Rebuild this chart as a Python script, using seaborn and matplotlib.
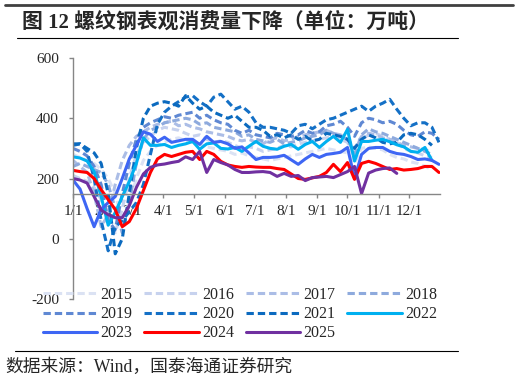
import matplotlib
matplotlib.use("Agg")
import matplotlib.pyplot as plt
import seaborn as sns
import numpy as np
import pandas as pd
from matplotlib.lines import Line2D

# weekly rebar apparent consumption, 10k tonnes
v2015 = [280, 270, 260, 250, 230, 200, 150, 60, 120, 200, 260, 290, 310, 320, 330, 335, 325, 320, 315, 305,
         300, 295, 290, 280, 285, 275, 270, 265, 260, 265, 270, 275, 280, 285, 290, 295, 300, 295, 290, 285,
         250, 300, 305, 300, 295, 280, 270, 265, 255, 250, 240, 230]
v2016 = [210, 200, 190, 170, 130, 60, 20, 100, 200, 280, 320, 340, 360, 370, 365, 360, 350, 340, 345, 330,
         320, 325, 320, 310, 300, 305, 300, 290, 295, 300, 310, 305, 315, 320, 325, 330, 335, 340, 330, 320,
         270, 330, 345, 350, 340, 330, 320, 300, 290, 285, 275, 270]
v2017 = [260, 240, 220, 150, 40, 80, 180, 260, 310, 340, 355, 370, 380, 385, 390, 375, 380, 370, 365, 355,
         350, 345, 340, 330, 325, 330, 320, 315, 330, 335, 325, 330, 340, 345, 350, 355, 360, 350, 345, 330,
         300, 340, 350, 345, 335, 330, 320, 310, 305, 300, 295, 290]
v2018 = [240, 250, 240, 230, 220, 180, 100, 20, 120, 250, 330, 360, 370, 385, 390, 395, 400, 395, 380, 385,
         370, 365, 360, 355, 340, 345, 330, 325, 320, 330, 315, 320, 325, 335, 340, 345, 360, 350, 340, 330,
         280, 345, 365, 355, 350, 340, 330, 320, 310, 300, 290, 280]
v2019 = [300, 290, 275, 240, 180, 60, 30, 150, 250, 330, 370, 385, 395, 405, 400, 410, 415, 420, 400, 410,
         395, 385, 380, 360, 350, 360, 345, 340, 335, 350, 345, 340, 345, 360, 350, 355, 375, 380, 390, 370,
         340, 385, 400, 395, 385, 390, 380, 360, 345, 340, 355, 350, 330]
v2020 = [310, 315, 290, 200, 60, -40, 40, 60, 90, 120, 180, 280, 380, 420, 440, 455, 470, 475, 455, 440,
         470, 480, 455, 430, 440, 420, 385, 370, 370, 365, 360, 350, 375, 380, 365, 380, 395, 400, 410, 420,
         430, 440, 423, 440, 450, 463, 430, 400, 375, 385, 385, 370, 320]
v2021 = [315, 315, 300, 285, 250, 150, -50, 0, 150, 300, 400, 440, 450, 455, 450, 440, 475, 450, 430, 440,
         420, 410, 400, 410, 390, 370, 370, 360, 340, 345, 335, 345, 330, 340, 325, 330, 350, 345, 340, 330,
         300, 330, 345, 335, 320, 315, 320, 345, 350, 345, 330, 310]
v2022 = [272, 268, 258, 223, 140, 45, 87, 140, 190, 250, 335, 310, 310, 313, 303, 310, 315, 323, 297, 315,
         318, 300, 298, 303, 290, 307, 323, 307, 300, 297, 307, 313, 297, 313, 323, 303, 323, 340, 320, 363,
         258, 323, 323, 327, 330, 322, 312, 305, 290, 287, 303, 260]
v2023 = [195, 165, 100, 40, 97, 120, 140, 200, 265, 310, 355, 347, 323, 337, 320, 325, 330, 330, 313, 340,
         320, 323, 315, 300, 305, 285, 263, 270, 270, 272, 277, 262, 247, 265, 280, 270, 280, 283, 287, 303,
         200, 280, 300, 303, 303, 290, 283, 280, 273, 263, 265, 260, 247]
v2024 = [227, 223, 220, 200, 163, 130, 97, 40, 57, 100, 160, 220, 265, 280, 273, 280, 287, 290, 263, 290,
         280, 257, 245, 240, 237, 240, 238, 237, 237, 233, 230, 215, 200, 197, 202, 207, 220, 247, 223, 253,
         197, 250, 257, 250, 240, 230, 233, 228, 230, 233, 240, 240, 220]
v2025 = [200, 195, 185, 140, 95, 80, 70, 70, 110, 170, 215, 237, 245, 248, 253, 257, 272, 263, 290, 220,
         263, 253, 245, 230, 220, 220, 222, 223, 220, 207, 217, 207, 210, 193, 203, 205, 207, 203, 213, 223,
         240, 150, 218, 228, 233, 235, 217]

years = ["2015", "2016", "2017", "2018", "2019", "2020", "2021", "2022", "2023", "2024", "2025"]
series = [v2015, v2016, v2017, v2018, v2019, v2020, v2021, v2022, v2023, v2024, v2025]
colors = ["#dbe2f3", "#c7d2ee", "#abbde6", "#8eaadd", "#5f88d3", "#1470c6", "#0b6abf",
          "#00b0f0", "#3e66f4", "#ff0000", "#7030a0"]
dashed = [True] * 7 + [False] * 4

month_days = [0, 31, 59, 90, 120, 151, 181, 212, 243, 273, 304, 334]
month_labels = ["1/1", "2/1", "3/1", "4/1", "5/1", "6/1", "7/1", "8/1", "9/1", "10/1", "11/1", "12/1"]

sns.set_style("white")
plt.rcParams["font.family"] = ["Liberation Serif", "Noto Sans CJK SC"]
plt.rcParams["axes.unicode_minus"] = False

fig = plt.figure(figsize=(5.24, 3.81), dpi=100)
ax = fig.add_axes([73 / 524, 1 - 299 / 381, (440 - 73) / 524, (299 - 58) / 381])

for yr, vals, c, d in zip(years, series, colors, dashed):
    df = pd.DataFrame({"day": np.arange(len(vals)) * 7, "v": vals})
    sns.lineplot(data=df, x="day", y="v", ax=ax, color=c, linewidth=2.2,
                 label=yr, legend=False)
    ln = ax.lines[-1]
    if d:
        ln.set_dashes((2.4, 1.3))
        ln.set_dash_capstyle("butt")

ax.set_xlim(0, 365)
ax.set_ylim(-200, 600)
ax.set_yticks([-200, 0, 200, 400, 600])
ax.set_xticks(month_days)
ax.set_xticklabels(month_labels)
ax.set_xlabel("")
ax.set_ylabel("")

for s in ["top", "right"]:
    ax.spines[s].set_visible(False)
ax.spines["bottom"].set_position(("data", 150))
for s in ["left", "bottom"]:
    ax.spines[s].set_color("#868686")
    ax.spines[s].set_linewidth(1.0)
ax.tick_params(axis="y", direction="out", length=3, width=1, color="#868686", pad=7,
               labelsize=11, left=True)
ax.tick_params(axis="x", direction="out", length=3, width=1, color="#868686", pad=5,
               labelsize=11, bottom=True)

# legend reads row by row in the reference; matplotlib fills column by column
lines = dict(zip(years, ax.lines))
order = ["2015", "2019", "2023", "2016", "2020", "2024", "2017", "2021", "2025", "2018", "2022"]
fig.legend([lines[y] for y in order], order, ncol=4, loc="upper left",
           bbox_to_anchor=(43 / 524, 1 - 287 / 381),
           frameon=False, fontsize=11.5, handlelength=3.4, handletextpad=0.2,
           columnspacing=0.75, labelspacing=0.2, borderpad=0, borderaxespad=0)

# header / footer rules and text
fig.add_artist(Line2D([5 / 524, 513 / 524], [1 - 5 / 381] * 2, transform=fig.transFigure,
                      color="#404040", linewidth=2))
fig.add_artist(Line2D([17 / 524, 458 / 524], [1 - 38 / 381] * 2, transform=fig.transFigure,
                      color="black", linewidth=0.8))
fig.add_artist(Line2D([15 / 524, 458 / 524], [1 - 351 / 381] * 2, transform=fig.transFigure,
                      color="black", linewidth=0.8))
fig.text(22 / 524, 1 - 22 / 381, "图 12 螺纹钢表观消费量下降（单位：万吨）", fontsize=15,
         fontweight="bold", va="center", ha="left")
fig.text(5 / 524, 1 - 367 / 381, "数据来源：Wind，国泰海通证券研究", fontsize=12.8,
         va="center", ha="left")

fig.savefig("out.png", dpi=100)
